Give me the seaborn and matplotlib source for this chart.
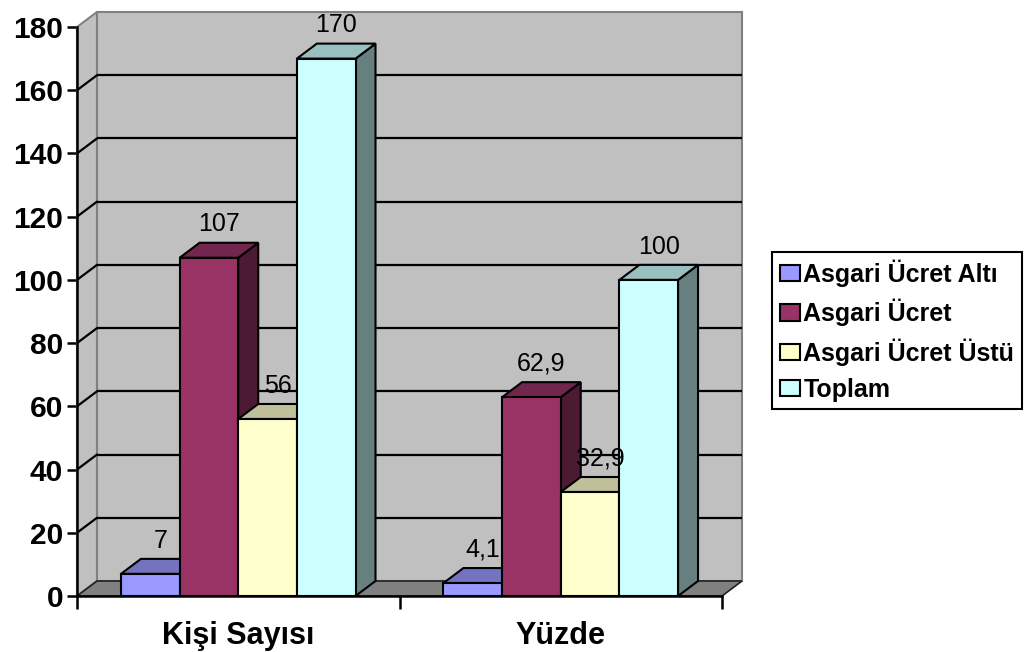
import matplotlib
matplotlib.use("Agg")
import matplotlib.pyplot as plt
import seaborn as sns
import pandas as pd
import numpy as np
from matplotlib.patches import Polygon, Patch
from matplotlib.colors import to_rgb
from matplotlib.ticker import FixedLocator

# ---- data -------------------------------------------------------------
categories = ["Kişi Sayısı", "Yüzde"]
series = ["Asgari Ücret Altı", "Asgari Ücret", "Asgari Ücret Üstü", "Toplam"]
kisi_sayisi = [7, 107, 56, 170]
yuzde = [4.1, 62.9, 32.9, 100]
y_ticks = list(range(0, 181, 20))

colors = ["#9999FF", "#993366", "#FFFFCC", "#CCFFFF"]

df = pd.DataFrame({
    "kategori": np.repeat(categories, len(series)),
    "seri": series * len(categories),
    "deger": kisi_sayisi + yuzde,
})

# ---- figure -----------------------------------------------------------
sns.set_theme(style="white")
plt.rcParams["font.family"] = ["Liberation Sans", "DejaVu Sans"]
plt.rcParams.update({"text.color": "black", "xtick.color": "black",
                     "ytick.color": "black", "axes.labelcolor": "black"})

W, H = 1030, 652
fig = plt.figure(figsize=(W / 100, H / 100), dpi=100)
ax = fig.add_axes([77 / W, 56 / H, 665 / W, 584 / H])
ax.set_facecolor("none")

YMAX = 180
# depth of the pseudo-3D extrusion in data units
DX = 20 / 323
DY = 15 / (569 / YMAX)

sns.barplot(data=df, x="kategori", y="deger", hue="seri", hue_order=series,
            palette=colors, saturation=1, width=0.7273, edgecolor="black",
            linewidth=1.5, legend=False, ax=ax)
bars = sorted([p for c in ax.containers for p in c], key=lambda p: p.get_x())

ax.set_xlim(-0.5, 1.5 + DX)
ax.set_ylim(0, YMAX + DY)

def shade(c, f):
    r, g, b = to_rgb(c)
    return (r * f, g * f, b * f)

# ---- walls, floor and gridlines ---------------------------------------
x0, x1 = -0.5, 1.5
wall_kw = dict(closed=True, clip_on=False, zorder=1)
ax.add_patch(Polygon([(x0 + DX, DY), (x1 + DX, DY), (x1 + DX, YMAX + DY),
                      (x0 + DX, YMAX + DY)], facecolor="#C0C0C0",
                     edgecolor="#808080", linewidth=1.5, **wall_kw))
ax.add_patch(Polygon([(x0, 0), (x0 + DX, DY), (x0 + DX, YMAX + DY), (x0, YMAX)],
                     facecolor="#C0C0C0", edgecolor="#808080", linewidth=1.5,
                     **wall_kw))
ax.add_patch(Polygon([(x0, 0), (x1, 0), (x1 + DX, DY), (x0 + DX, DY)],
                     facecolor="#808080", edgecolor="#202020", linewidth=1.2,
                     **wall_kw))
for v in y_ticks[1:-1]:
    ax.plot([x0 + DX, x1 + DX], [v + DY, v + DY], color="black", lw=1.6,
            zorder=2, solid_capstyle="butt")
    ax.plot([x0, x0 + DX], [v, v + DY], color="black", lw=1.6, zorder=2)

# ---- extrude the bars -------------------------------------------------
fmt = lambda v: (f"{v:g}").replace(".", ",")
for i, p in enumerate(bars):
    x, w, h = p.get_x(), p.get_width(), p.get_height()
    face = p.get_facecolor()
    z = 10 + 3 * i
    p.set_zorder(z + 2)
    top = Polygon([(x, h), (x + w, h), (x + w + DX, h + DY), (x + DX, h + DY)],
                  closed=True, facecolor=shade(face, 0.75), edgecolor="black",
                  linewidth=1.5, zorder=z + 1, clip_on=False)
    side = Polygon([(x + w, 0), (x + w + DX, DY), (x + w + DX, h + DY), (x + w, h)],
                   closed=True, facecolor=shade(face, 0.5), edgecolor="black",
                   linewidth=1.5, zorder=z, clip_on=False)
    ax.add_patch(top)
    ax.add_patch(side)
    ax.text(x + w / 2 + DX / 2, h + DY + 2.0, fmt(h), ha="center", va="bottom",
            fontsize=18, color="black", zorder=100, clip_on=False)

# ---- axes -------------------------------------------------------------
sns.despine(ax=ax, top=True, right=True)
ax.spines["left"].set_bounds(0, YMAX)
ax.spines["bottom"].set_bounds(x0, x1)
for s in ("left", "bottom"):
    ax.spines[s].set_color("black")
    ax.spines[s].set_linewidth(1.8)
    ax.spines[s].set_zorder(50)

ax.yaxis.set_major_locator(FixedLocator(y_ticks))
ax.set_yticklabels([str(t) for t in y_ticks], fontsize=21.5, fontweight="bold")
ax.tick_params(axis="y", which="major", direction="out", length=7, width=1.8,
               color="black", labelcolor="black", pad=3, left=True)
ax.set_xticks(range(len(categories)))
ax.set_xticklabels(categories, fontsize=22, fontweight="bold")
ax.xaxis.set_minor_locator(FixedLocator([x0, 0.5, x1]))
ax.tick_params(axis="x", which="major", length=0, pad=18, bottom=True,
               labelcolor="black")
ax.tick_params(axis="x", which="minor", direction="out", length=9, width=1.8,
               color="black", bottom=True)
ax.set_xlabel("")
ax.set_ylabel("")
ax.grid(False)

# ---- legend -----------------------------------------------------------
handles = [Patch(facecolor=c, edgecolor="black", linewidth=1.5) for c in colors]
leg = ax.legend(handles, series, loc="upper left",
                bbox_to_anchor=(772 / W, 1 - 252 / H), bbox_transform=fig.transFigure,
                prop=dict(weight="bold", size=18), frameon=True, fancybox=False,
                edgecolor="black", framealpha=1, handlelength=0.8,
                handleheight=0.62, handletextpad=0.15, labelspacing=0.48,
                borderpad=0.3, borderaxespad=0, labelcolor="black")
leg.get_frame().set_linewidth(1.5)

fig.savefig("out.png", dpi=100)
